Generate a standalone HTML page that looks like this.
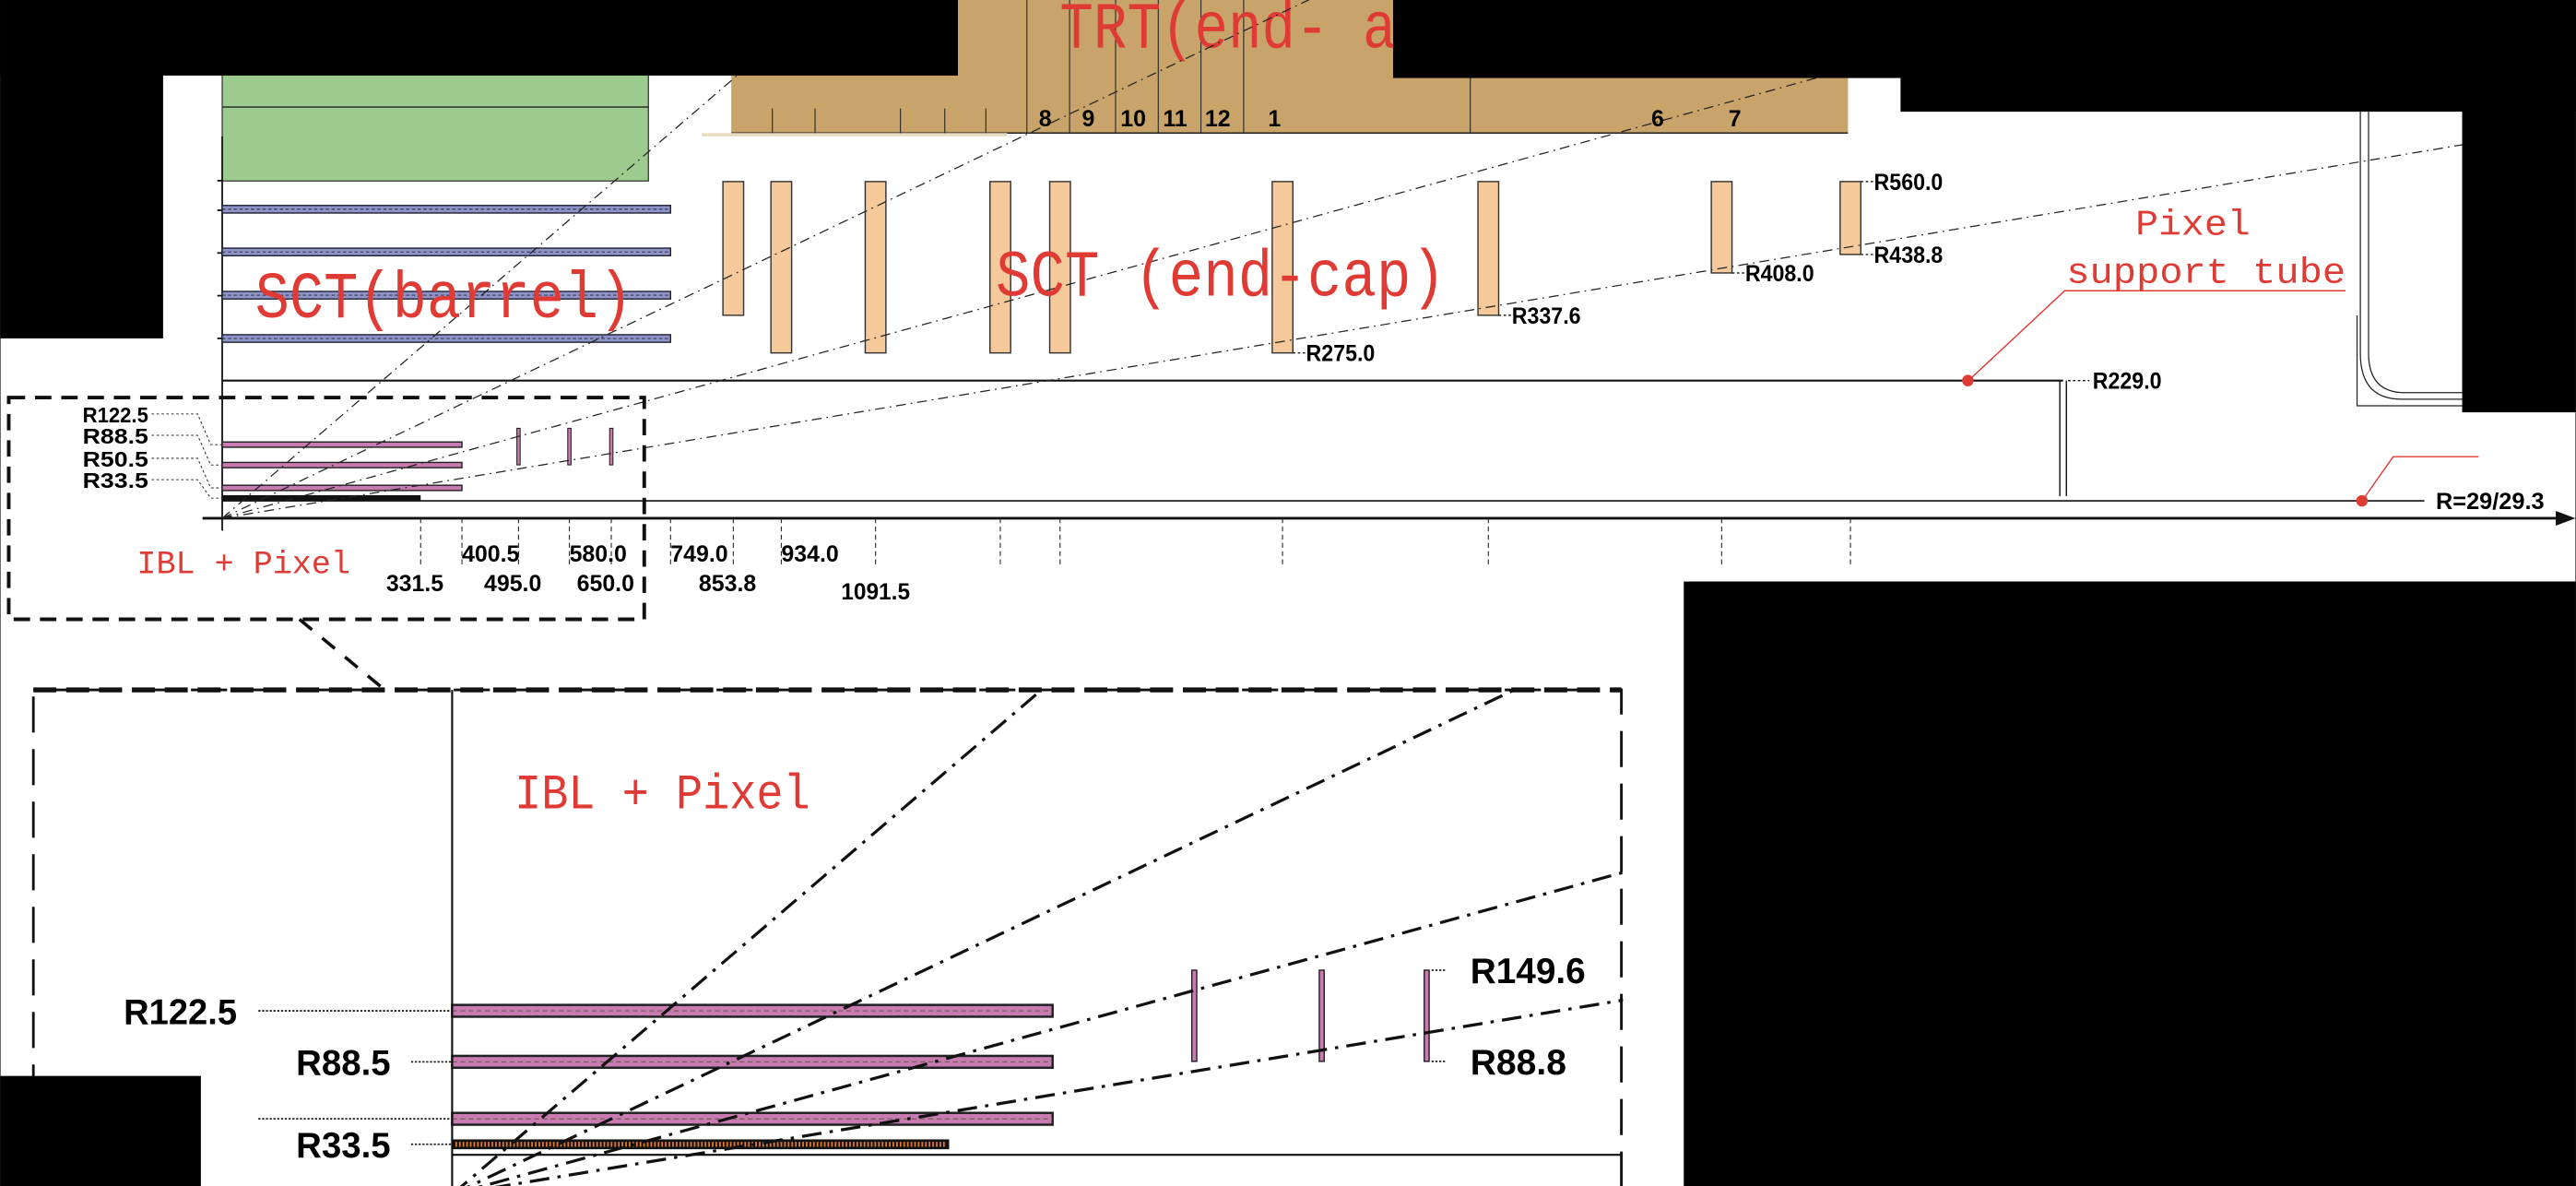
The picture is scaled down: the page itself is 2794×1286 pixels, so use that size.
<!DOCTYPE html>
<html><head><meta charset="utf-8">
<style>
html,body{margin:0;padding:0;background:#000;}
svg{display:block;}
text{font-family:"Liberation Sans Narrow","Liberation Sans",sans-serif;font-weight:bold;}
.red{font-family:"Liberation Mono",monospace;fill:#e03a35;font-weight:normal;}
</style></head>
<body>
<svg id="chart" xmlns="http://www.w3.org/2000/svg" width="2794" height="1286" viewBox="0 0 1568 722">
<rect x="0" y="0" width="1568" height="722" fill="#fff"/>
<g id="main"></g>
<g id="inset"></g>
<g id="masks">
<rect x="0" y="0" width="583" height="46" fill="#000"/>
<rect x="0" y="0" width="99" height="206" fill="#000"/>
<rect x="848" y="0" width="720" height="47.5" fill="#000"/>
<rect x="1157" y="0" width="411" height="68" fill="#000"/>
<rect x="1499" y="0" width="69" height="251" fill="#000"/>
<rect x="1025" y="354" width="543" height="368" fill="#000"/>
<rect x="0" y="655" width="122" height="67" fill="#000"/>
</g>
</svg>
<script>
// ---- data (mm) ----
const sctBarrelR = [299, 371, 443, 514];
const sctDiskZ = [853.8, 934.0, 1091.5, 1299.9, 1399.7, 1771.4, 2115.2, 2505.0, 2720.2];
const sctDiskRin = [337.6, 275.0, 275.0, 275.0, 275.0, 275.0, 337.6, 408.0, 438.8];
const sctDiskRout = 560.0;
const pixBarrelR = [50.5, 88.5, 122.5];
const iblR = 33.5;
const pixBarrelZ = 400.5;
const iblZ = 331.5;
const pixDiskZ = [495.0, 580.0, 650.0];
const pixDiskR = [88.8, 149.6];
const etaSlopes = [0.856, 0.475, 0.275, 0.166];
const zTickValues = [331.5, 400.5, 495.0, 580.0, 650.0, 749.0, 853.8, 934.0, 1091.5, 1299.9, 1399.7, 1771.4, 2115.2, 2505.0, 2720.2];
const zTickLabels = ["331.5", "400.5", "495.0", "580.0", "650.0", "749.0", "853.8", "934.0", "1091.5"];
const trtModuleLabels = ["8", "9", "10", "11", "12", "1", "6", "7"];
const trtModuleZ = [1375, 1447, 1522, 1592, 1663, 1758, 2398, 2527];

// ---- scales ----
const X0 = 135, Y0 = 315.5, K = 0.3645, KR = 0.366;
function xs(z){ return X0 + K * z; }
function ys(r){ return Y0 - KR * r; }
const IX0 = 275, IY0 = 727.2, IK = 0.913;
function ixs(z){ return IX0 + IK * z; }
function iys(r){ return IY0 - IK * r; }

const NS = "http://www.w3.org/2000/svg";
function mk(tag, attrs, parent){
  const e = document.createElementNS(NS, tag);
  for (const k in attrs) e.setAttribute(k, attrs[k]);
  parent.appendChild(e);
  return e;
}
function txt(s, x, y, size, parent, len, cls){
  const t = mk("text", {x:x, y:y, "font-size":size}, parent);
  if (len) { t.setAttribute("textLength", len); t.setAttribute("lengthAdjust", "spacingAndGlyphs"); }
  if (cls) t.setAttribute("class", cls);
  t.textContent = s;
  return t;
}
const M = document.getElementById("main");
const I = document.getElementById("inset");
let e;

// TRT barrel (green)
e = mk("rect", {x:xs(0), y:40, width:xs(712)-xs(0), height:ys(561)-40, fill:"#9dcb8f", stroke:"#333", "stroke-width":0.7}, M);


mk("line", {x1:xs(0), x2:xs(712), y1:ys(684), y2:ys(684), stroke:"#222", "stroke-width":0.8}, M);

// TRT end-cap (tan)
e = mk("path", {d:"M445 0 L445 81 L1125 81 L1125 0 Z", fill:"#c8a46a"}, M);


mk("line", {x1:445, x2:1125, y1:81, y2:81, stroke:"#222", "stroke-width":0.8}, M);
mk("line", {x1:427, x2:613, y1:82, y2:82, stroke:"#e8dcc0", "stroke-width":2}, M);
[625, 651, 679, 705, 731, 757, 895].forEach(function(xx){
  mk("line", {x1:xx, x2:xx, y1:0, y2:81, stroke:"#222", "stroke-width":0.6}, M);
});
[470, 496, 548, 575, 600].forEach(function(xx){
  mk("line", {x1:xx, x2:xx, y1:66, y2:81, stroke:"#222", "stroke-width":0.6}, M);
});
trtModuleLabels.forEach(function(s, i){
  e = txt(s, xs(trtModuleZ[i]), 77, 14, M);
  e.setAttribute("text-anchor", "middle");
  
  
});
e = txt("TRT(end- a", 645, 29, 40, M, 205, "red");



// y axis
e = mk("line", {x1:X0, x2:X0, y1:83, y2:323, stroke:"#111", "stroke-width":1}, M);


[110, 128, 154, 180, 206].forEach(function(yy){
  mk("line", {x1:X0-3, x2:X0, y1:yy, y2:yy, stroke:"#111", "stroke-width":1}, M);
});

// SCT barrel staves
sctBarrelR.forEach(function(r){
  e = mk("rect", {x:xs(0), y:ys(r)-2.3, width:xs(749)-xs(0), height:4.6, fill:"#8e94c8", stroke:"#223", "stroke-width":0.8}, M);
  
  
  mk("line", {x1:xs(0), x2:xs(749), y1:ys(r), y2:ys(r), stroke:"#223", "stroke-width":0.5, "stroke-dasharray":"2 1.5"}, M);
});

// SCT disks
sctDiskZ.forEach(function(z, i){
  e = mk("rect", {x:xs(z)-6.3, y:ys(sctDiskRout), width:12.6, height:ys(sctDiskRin[i])-ys(sctDiskRout), fill:"#f5c99a", stroke:"#333", "stroke-width":0.8}, M);
  
  
});
[[5,"R275.0",275],[6,"R337.6",337.6],[7,"R408.0",408],[8,"R438.8",438.8],[8,"R560.0",560]].forEach(function(a){
  const xx = xs(sctDiskZ[a[0]]) + 6.3;
  mk("line", {x1:xx, x2:xx+8, y1:ys(a[2]), y2:ys(a[2]), stroke:"#222", "stroke-width":0.8, "stroke-dasharray":"1.5 1.5"}, M);
  e = txt(a[1], xx + 8, ys(a[2]) + 5, 14, M, 42);
  
  
});

// Pixel support tube & beam pipe
e = mk("line", {x1:X0, x2:1256, y1:ys(229), y2:ys(229), stroke:"#111", "stroke-width":1.2}, M);


mk("line", {x1:1254, x2:1254, y1:ys(229), y2:302, stroke:"#111", "stroke-width":0.8}, M);
mk("line", {x1:1258, x2:1258, y1:ys(229), y2:302, stroke:"#111", "stroke-width":0.8}, M);
mk("line", {x1:1259, x2:1272, y1:ys(229), y2:ys(229), stroke:"#111", "stroke-width":0.8, "stroke-dasharray":"1.5 1.5"}, M);
e = txt("R229.0", 1274, ys(229)+5, 14, M, 42);


e = mk("line", {x1:X0, x2:1476, y1:ys(29), y2:ys(29), stroke:"#111", "stroke-width":0.9}, M);


e = txt("R=29/29.3", 1483, ys(29)+5, 14, M, 66);



// right side structure
mk("path", {d:"M1437 68 L1437 215 Q1437 243 1462 243 L1499 243", fill:"none", stroke:"#222", "stroke-width":0.7}, M);
mk("path", {d:"M1442 68 L1442 215 Q1442 239 1464 239 L1499 239", fill:"none", stroke:"#222", "stroke-width":0.7}, M);
mk("path", {d:"M1435 192 L1435 247 L1499 247", fill:"none", stroke:"#222", "stroke-width":0.7}, M);

// red annotations
mk("circle", {cx:1198, cy:ys(229), r:3.5, fill:"#e03a35"}, M);
mk("polyline", {points:"1198,232 1257,177 1428,177", fill:"none", stroke:"#e03a35", "stroke-width":0.8}, M);
mk("circle", {cx:1438, cy:ys(29), r:3.5, fill:"#e03a35"}, M);
mk("polyline", {points:"1438,305 1457,278 1509,278", fill:"none", stroke:"#e03a35", "stroke-width":0.8}, M);
e = txt("Pixel", 1300, 143, 22, M, 70, "red");


e = txt("support tube", 1258, 172, 22, M, 170, "red");



// z axis with arrow
e = mk("line", {x1:123, x2:1560, y1:Y0, y2:Y0, stroke:"#111", "stroke-width":1.6}, M);


mk("path", {d:"M1568 315.5 L1556 311 L1556 320 Z", fill:"#111"}, M);
zTickValues.forEach(function(z){
  e = mk("line", {x1:xs(z), x2:xs(z), y1:Y0, y2:345, stroke:"#222", "stroke-width":0.6, "stroke-dasharray":"3 2"}, M);
  
  
});
zTickLabels.forEach(function(s, i){
  const z = parseFloat(s);
  const lower = (i % 2 === 0);
  const yy = (s === "1091.5") ? 365 : (lower ? 360 : 342);
  e = txt(s, xs(z) + (lower ? -21 : 0), yy, 14, M, s.length * 7);
  
  
});

// Pixel barrel (main view)
pixBarrelR.forEach(function(r){
  e = mk("rect", {x:xs(0), y:ys(r)-1.6, width:xs(pixBarrelZ)-xs(0), height:3.2, fill:"#c87bb0", stroke:"#222", "stroke-width":0.8}, M);
  
  
});
e = mk("rect", {x:xs(0), y:ys(iblR)-1.8, width:xs(iblZ)-xs(0), height:3.6, fill:"#111"}, M);


pixDiskZ.forEach(function(z){
  e = mk("rect", {x:xs(z)-1, y:ys(pixDiskR[1]), width:2, height:ys(pixDiskR[0])-ys(pixDiskR[1]), fill:"#c87bb0", stroke:"#222", "stroke-width":0.6}, M);
  
  
});
[["R122.5",122.5,252],["R88.5",88.5,265],["R50.5",50.5,279],["R33.5",33.5,292]].forEach(function(a){
  e = txt(a[0], 50, a[2]+5, 13, M, 40);
  
  
  mk("polyline", {points:"92,"+a[2]+" 120,"+a[2]+" 128,"+ys(a[1])+" 135,"+ys(a[1]), fill:"none", stroke:"#333", "stroke-width":0.6, "stroke-dasharray":"1.5 1.5"}, M);
});
e = txt("IBL + Pixel", 83, 349, 20, M, 130, "red");



// eta lines main view
etaSlopes.forEach(function(s){
  const zEnd = 4000;
  e = mk("line", {x1:xs(0), y1:ys(0), x2:xs(zEnd), y2:ys(zEnd*s), stroke:"#222", "stroke-width":0.7, "stroke-dasharray":"6 3 1 3"}, M);
  
  
});

// zoom box in main view
e = mk("rect", {x:5, y:242, width:387, height:135, fill:"none", stroke:"#111", "stroke-width":2.2, "stroke-dasharray":"10 6"}, M);


mk("line", {x1:182, y1:377, x2:234, y2:420, stroke:"#111", "stroke-width":2, "stroke-dasharray":"10 8"}, M);

// ---- inset ----
const clip = mk("clipPath", {id:"insetclip"}, I);
mk("rect", {x:20, y:420, width:968, height:302}, clip);
const IG = mk("g", {"clip-path":"url(#insetclip)"}, I);
e = mk("rect", {x:20, y:420, width:967, height:310, fill:"none", stroke:"#111", "stroke-width":1.6, "stroke-dasharray":"22 10"}, I);


mk("line", {x1:20, x2:987, y1:420, y2:420, stroke:"#111", "stroke-width":3, "stroke-dasharray":"14 6"}, I);
mk("line", {x1:IX0, x2:IX0, y1:420, y2:722, stroke:"#111", "stroke-width":1.2}, I);
mk("line", {x1:IX0, x2:987, y1:iys(26.5), y2:iys(26.5), stroke:"#111", "stroke-width":1.2}, I);

pixBarrelR.forEach(function(r){
  e = mk("rect", {x:ixs(0), y:iys(r)-3.6, width:ixs(pixBarrelZ)-ixs(0), height:7.2, fill:"#c87bb0", stroke:"#222", "stroke-width":1.4}, IG);
  
  
  mk("line", {x1:ixs(0), x2:ixs(pixBarrelZ), y1:iys(r), y2:iys(r), stroke:"#553", "stroke-width":0.5, "stroke-dasharray":"3 2"}, IG);
});
e = mk("rect", {x:ixs(0), y:iys(iblR)-3, width:ixs(iblZ)-ixs(0), height:6, fill:"#111"}, IG);


mk("line", {x1:ixs(0)+2, x2:ixs(iblZ)-2, y1:iys(iblR), y2:iys(iblR), stroke:"#e07a30", "stroke-width":3, "stroke-dasharray":"1 1.2"}, IG);
pixDiskZ.forEach(function(z){
  e = mk("rect", {x:ixs(z)-1.5, y:iys(pixDiskR[1]), width:3, height:iys(pixDiskR[0])-iys(pixDiskR[1]), fill:"#c87bb0", stroke:"#222", "stroke-width":0.8}, IG);
  
  
});
etaSlopes.forEach(function(s){
  const zEnd = 1200;
  e = mk("line", {x1:ixs(0), y1:iys(0), x2:ixs(zEnd), y2:iys(zEnd*s), stroke:"#111", "stroke-width":1.8, "stroke-dasharray":"12 5 2 5"}, IG);
  
  
});
[["R122.5",122.5,75,157],["R88.5",88.5,180,250],["",50.5,0,157],["R33.5",33.5,180,250]].forEach(function(a){
  const yy = iys(a[1]);
  mk("line", {x1:a[3], x2:IX0, y1:yy, y2:yy, stroke:"#222", "stroke-width":1, "stroke-dasharray":"1.3 1"}, I);
  if (a[0]) {
    e = txt(a[0], a[2], yy+8, 22, I, a[0].length * 11.5);
    
    
  }
});
[["R149.6",149.6],["R88.8",88.8]].forEach(function(a){
  const yy = iys(a[1]);
  mk("line", {x1:ixs(650)+3, x2:ixs(650)+12, y1:yy, y2:yy, stroke:"#222", "stroke-width":1, "stroke-dasharray":"1.3 1"}, I);
  e = txt(a[0], 895, yy+8, 22, I, a[0].length * 11.7);
  
  
});
e = txt("IBL + Pixel", 313, 492, 30, I, 180, "red");



// titles in main view
e = txt("SCT(barrel)", 155, 193, 40, M, 230, "red");


e = txt("SCT (end-cap)", 606, 180, 40, M, 274, "red");


</script>
</body></html>
